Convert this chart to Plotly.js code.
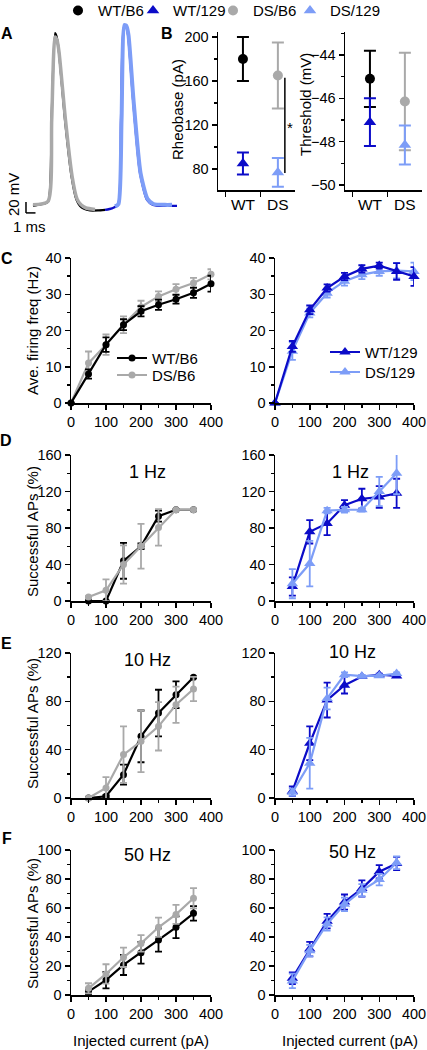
<!DOCTYPE html>
<html><head><meta charset="utf-8">
<script src="https://cdn.plot.ly/plotly-3.0.1.min.js"></script>
<style>html,body{margin:0;padding:0;background:#fff}#chart{width:427px;height:1050px}</style>
</head><body><div id="chart"></div>
<script>
// ---------- DATA ----------
// Panel A: example action potentials (time in ms, voltage in mV)
const apTimeWTB6 = [0, 0.74, 1.58, 1.95, 2.32, 2.47, 2.68, 3.37, 4.05, 4.58, 4.95, 5.37, 6.0, 6.84, 7.58];
const apVoltWTB6 = [-62.7, -61.9, -60.4, -13.6, 36.1, 34.4, 27.6, -13.6, -45.6, -59.3, -62.7, -64.4, -65.3, -65.3, -65.0];
const apTimeDSB6 = [0, 1.58, 1.97, 2.32, 2.53, 2.74, 3.42, 4.11, 4.63, 5.05, 5.58, 6.53];
const apVoltDSB6 = [-62.1, -60.1, -13.6, 33.9, 32.1, 25.3, -13.6, -45.6, -58.7, -62.1, -63.9, -64.7];
const apTimeWT129 = [7.58, 8.32, 8.95, 9.26, 9.58, 9.79, 10.0, 10.53, 11.26, 12.0, 12.63, 13.89, 15.16];
const apVoltWT129 = [-65.0, -64.1, -62.1, -13.6, 39.6, 39.6, 35.0, -2.1, -43.9, -59.3, -62.1, -62.7, -62.7];
const apTimeDS129 = [8.63, 9.0, 9.32, 9.63, 9.84, 10.05, 10.58, 11.32, 12.05, 12.68, 13.89, 14.63];
const apVoltDS129 = [-63.0, -61.6, -13.6, 40.7, 40.1, 35.0, -2.1, -43.9, -58.7, -61.6, -62.1, -62.1];

// Panel B
const genotypes = ['WT', 'DS'];
const rheobase = {WTB6: 180, WT129: 85, DSB6: 165, DS129: 77};
const rheobaseErr = {WTB6: 20, WT129: 10, DSB6: 30, DS129: 13};
const thresholdVals = {WTB6: -45.1, WT129: -47.1, DSB6: -46.15, DS129: -48.15};
const thresholdErr = {WTB6: 1.3, WT129: 1.1, DSB6: 2.25, DS129: 0.9};

// Panel C: average firing frequency (Hz)
const currentsC = [0, 50, 100, 150, 200, 250, 300, 350, 400];
const freqWTB6 = [0, 8.0, 16.1, 21.6, 25.3, 27.1, 28.6, 30.4, 32.9];
const freqWTB6Err = [0, 1.3, 2.0, 1.5, 1.4, 1.4, 1.2, 1.4, 2.2];
const freqDSB6 = [0, 11.0, 16.1, 21.6, 26.5, 29.4, 31.4, 33.1, 35.5];
const freqDSB6Err = [0, 3.2, 2.8, 2.3, 1.7, 1.4, 1.4, 1.4, 1.4];
const freqWT129 = [0, 15.6, 25.7, 31.7, 34.9, 37.0, 37.9, 36.3, 34.9];
const freqWT129Err = [0, 1.5, 1.2, 1.0, 1.0, 1.0, 0.8, 2.3, 2.6];
const freqDS129 = [0, 14.3, 24.8, 30.3, 33.6, 35.4, 36.3, 36.5, 36.3];
const freqDS129Err = [0, 2.4, 1.2, 1.2, 1.2, 1.2, 1.2, 2.1, 2.4];

// Panels D-F: successful APs (%)
const currentsDF = [50, 100, 150, 200, 250, 300, 350];
const ap1WTB6 = [0, 0, 44, 60, 93, 100, 100];
const ap1WTB6Err = [0, 0, 19.6, 3, 6, 0, 0];
const ap1DSB6 = [4.4, 11.7, 40, 60, 80.6, 100, 100];
const ap1DSB6Err = [1, 12, 21, 24.5, 20, 0, 0];
const ap1WT129 = [16, 75.8, 85, 105, 112, 114, 118];
const ap1WT129Err = [10, 12.8, 12.8, 5.5, 11, 12, 16];
const ap1DS129 = [19, 41, 99, 100, 100, 120, 140];
const ap1DS129Err = [16, 25, 3, 3, 2, 16, 23];

const ap10WTB6 = [0, 1.4, 19.3, 51, 70.3, 85.5, 100];
const ap10WTB6Err = [0, 1, 8.3, 21.4, 19.3, 11, 0.5];
const ap10DSB6 = [0, 8.3, 35.9, 46.9, 59.3, 77.2, 90.2];
const ap10DSB6Err = [0, 9, 23.4, 25.5, 20, 15, 10];
const ap10WT129 = [5.5, 45.3, 81, 93.4, 100.5, 102, 101];
const ap10WT129Err = [4, 14, 14.4, 6.9, 1, 1, 1];
const ap10DS129 = [4.7, 28.8, 82.4, 102, 100.8, 101.2, 103];
const ap10DS129Err = [3, 21, 9, 2, 1, 1, 1];

const ap50WTB6 = [2.3, 10.3, 20.7, 29.2, 37.9, 46.7, 56.3];
const ap50WTB6Err = [2, 5.7, 6.9, 7.5, 8, 7.5, 5];
const ap50DSB6 = [4.6, 14.5, 26, 35.6, 46.7, 55.6, 66.7];
const ap50DSB6Err = [3.5, 6.7, 6.7, 5.7, 6.6, 6.6, 7];
const ap50WT129 = [11.6, 31.7, 50.9, 64.1, 73.4, 85, 90.7];
const ap50WT129Err = [4, 5, 5, 5.2, 5.6, 4.6, 4.6];
const ap50DS129 = [9.7, 30.6, 49, 62.5, 72.2, 79.6, 91.2];
const ap50DS129Err = [5, 4, 4.6, 4.6, 4.2, 4, 4.4];

const groupNames = {WTB6: 'WT/B6', WT129: 'WT/129', DSB6: 'DS/B6', DS129: 'DS/129'};

// ---------- STYLE ----------
const W = 427, H = 1050;
const FONT = 'Liberation Sans, Arial, Helvetica, sans-serif';
const COL = {WTB6: '#000000', DSB6: '#a9a9a9', WT129: '#0b0bc8', DS129: '#7d9df7'};
const SYM = {WTB6: 'circle', DSB6: 'circle', WT129: 'triangle-up', DS129: 'triangle-up'};
const dx = (a, b) => [a / W, b / W];
const dy = (top, bottom) => [1 - bottom / H, 1 - top / H];
const px = v => v / W;
const py = v => 1 - v / H;
const LEG_HALF = 16.25; // distance from legend top to first item centre (15px font)

const traces = [];

// Panel A
function apTrace(t, v, color, width) {
  return {x: t, y: v, xaxis: 'x', yaxis: 'y', type: 'scatter', mode: 'lines',
    line: {color: color, width: width, shape: 'spline', smoothing: 0.6}, showlegend: false, hoverinfo: 'skip'};
}
traces.push(apTrace(apTimeWTB6, apVoltWTB6, COL.WTB6, 2.2));
traces.push(apTrace(apTimeDSB6, apVoltDSB6, COL.DSB6, 3.5));
traces.push(apTrace(apTimeWT129, apVoltWT129, COL.WT129, 2.2));
traces.push(apTrace(apTimeDS129, apVoltDS129, COL.DS129, 4));

// Panel B (rheobase traces also feed the four one-item top legends)
const bOrder = ['WTB6', 'WT129', 'DSB6', 'DS129'];
const topLegendIds = ['legend', 'legend4', 'legend5', 'legend6'];
bOrder.forEach((g, i) => {
  const geno = g.startsWith('WT') ? genotypes[0] : genotypes[1];
  const sz = SYM[g] === 'circle' ? 10 : 11;
  traces.push({x: [geno], y: [rheobase[g]], xaxis: 'x2', yaxis: 'y2', type: 'scatter', mode: 'markers',
    name: groupNames[g], legend: topLegendIds[i], showlegend: true, cliponaxis: false,
    marker: {color: COL[g], symbol: SYM[g], size: sz},
    error_y: {type: 'data', array: [rheobaseErr[g]], color: COL[g], thickness: 2, width: 6}});
  traces.push({x: [geno], y: [thresholdVals[g]], xaxis: 'x3', yaxis: 'y3', type: 'scatter', mode: 'markers',
    showlegend: false, cliponaxis: false,
    marker: {color: COL[g], symbol: SYM[g], size: sz},
    error_y: {type: 'data', array: [thresholdErr[g]], color: COL[g], thickness: 2, width: 6}});
});

function curve(x, y, err, g, xa, ya, legend) {
  const isTri = SYM[g] !== 'circle';
  const t = {x: x, y: y, xaxis: xa, yaxis: ya, type: 'scatter', mode: 'lines+markers', cliponaxis: false,
    name: groupNames[g], line: {color: COL[g], width: 2.2},
    marker: {color: COL[g], symbol: SYM[g], size: isTri ? 10 : 7},
    error_y: {type: 'data', array: err, color: COL[g], thickness: 1.8, width: 3.5},
    showlegend: !!legend};
  if (legend) t.legend = legend;
  return t;
}
// Panel C
traces.push(curve(currentsC, freqDSB6, freqDSB6Err, 'DSB6', 'x4', 'y4', 'legend7'));
traces.push(curve(currentsC, freqWTB6, freqWTB6Err, 'WTB6', 'x4', 'y4', 'legend2'));
traces.push(curve(currentsC, freqDS129, freqDS129Err, 'DS129', 'x5', 'y5', 'legend8'));
traces.push(curve(currentsC, freqWT129, freqWT129Err, 'WT129', 'x5', 'y5', 'legend3'));
// Panel D
traces.push(curve(currentsDF, ap1WTB6, ap1WTB6Err, 'WTB6', 'x6', 'y6'));
traces.push(curve(currentsDF, ap1DSB6, ap1DSB6Err, 'DSB6', 'x6', 'y6'));
traces.push(curve(currentsDF, ap1WT129, ap1WT129Err, 'WT129', 'x7', 'y7'));
traces.push(curve(currentsDF, ap1DS129, ap1DS129Err, 'DS129', 'x7', 'y7'));
// Panel E
traces.push(curve(currentsDF, ap10WTB6, ap10WTB6Err, 'WTB6', 'x8', 'y8'));
traces.push(curve(currentsDF, ap10DSB6, ap10DSB6Err, 'DSB6', 'x8', 'y8'));
traces.push(curve(currentsDF, ap10WT129, ap10WT129Err, 'WT129', 'x9', 'y9'));
traces.push(curve(currentsDF, ap10DS129, ap10DS129Err, 'DS129', 'x9', 'y9'));
// Panel F
traces.push(curve(currentsDF, ap50WTB6, ap50WTB6Err, 'WTB6', 'x10', 'y10'));
traces.push(curve(currentsDF, ap50DSB6, ap50DSB6Err, 'DSB6', 'x10', 'y10'));
traces.push(curve(currentsDF, ap50WT129, ap50WT129Err, 'WT129', 'x11', 'y11'));
traces.push(curve(currentsDF, ap50DS129, ap50DS129Err, 'DS129', 'x11', 'y11'));

// ---------- AXES ----------
const tickFont = {family: FONT, size: 14.5, color: '#000'};
function ax(domain, anchor, range, dtick, minorDtick) {
  const a = {domain: domain, anchor: anchor, range: range, showline: true, linecolor: '#000', linewidth: 1.5,
    ticks: 'outside', ticklen: 5, tickwidth: 1.5, tickcolor: '#000', tickfont: tickFont,
    showgrid: false, zeroline: false, fixedrange: true, tickmode: 'linear', tick0: 0, dtick: dtick};
  if (minorDtick) a.minor = {ticks: 'outside', ticklen: 3, tickwidth: 1.5, tickcolor: '#000', dtick: minorDtick, tick0: 0, showgrid: false};
  return a;
}
function catAx(domain, anchor) {
  return {domain: domain, anchor: anchor, type: 'category', range: [-0.714, 1.49], showline: true, linecolor: '#000',
    linewidth: 1.5, ticks: 'outside', ticklen: 5, tickwidth: 1.5, tickcolor: '#000', tickson: 'boundaries',
    tickfont: {family: FONT, size: 15.5, color: '#000'}, showgrid: false, zeroline: false, fixedrange: true};
}
const legFont = {family: FONT, size: 15, color: '#000'};
// one-item legend: place so that the symbol centre sits at (symX, centreY)
function oneLegend(symX, centreY, horizontal) {
  const l = {x: px(symX - 20), y: py(centreY - LEG_HALF), xanchor: 'left', yanchor: 'top',
    bgcolor: 'rgba(0,0,0,0)', font: legFont};
  if (horizontal) l.orientation = 'h';
  return l;
}
const LX = dx(71, 211), RX = dx(275, 414);
const layout = {
  width: W, height: H, margin: {l: 0, r: 0, t: 0, b: 0, autoexpand: false}, paper_bgcolor: '#fff', plot_bgcolor: 'rgba(0,0,0,0)',
  font: {family: FONT, size: 15, color: '#000'}, showlegend: true,
  xaxis: {domain: dx(20, 190), anchor: 'y', range: [-1.368, 16.526], visible: false, fixedrange: true},
  yaxis: {domain: dy(20, 222), anchor: 'x', range: [-71.9, 43.6], visible: false, fixedrange: true},
  xaxis2: catAx(dx(218, 295), 'y2'),
  yaxis2: ax(dy(32, 190), 'x2', [61, 204.5], 40, 20),
  xaxis3: catAx(dx(345, 422), 'y3'),
  yaxis3: ax(dy(32, 190), 'x3', [-50.23, -42.94], 2, 1),
  xaxis4: ax(LX, 'y4', [0, 400], 100, 50), yaxis4: ax(dy(258, 403), 'x4', [0, 40], 10, 5),
  xaxis5: ax(RX, 'y5', [0, 400], 100, 50), yaxis5: ax(dy(258, 403), 'x5', [0, 40], 10, 5),
  xaxis6: ax(LX, 'y6', [0, 400], 100, 50), yaxis6: ax(dy(455, 601), 'x6', [0, 160], 40, 20),
  xaxis7: ax(RX, 'y7', [0, 400], 100, 50), yaxis7: ax(dy(455, 601), 'x7', [0, 160], 40, 20),
  xaxis8: ax(LX, 'y8', [0, 400], 100, 50), yaxis8: ax(dy(653, 798), 'x8', [0, 120], 40, 20),
  xaxis9: ax(RX, 'y9', [0, 400], 100, 50), yaxis9: ax(dy(653, 798), 'x9', [0, 120], 40, 20),
  xaxis10: ax(LX, 'y10', [0, 400], 100, 50), yaxis10: ax(dy(850, 995), 'x10', [0, 100], 20, 10),
  xaxis11: ax(RX, 'y11', [0, 400], 100, 50), yaxis11: ax(dy(850, 995), 'x11', [0, 100], 20, 10),
  legend: oneLegend(78, 10.5, true), legend4: oneLegend(153, 10.5, true),
  legend5: oneLegend(233, 10.5, true), legend6: oneLegend(310, 10.5, true),
  legend2: oneLegend(132, 358), legend7: oneLegend(132, 375),
  legend3: oneLegend(345, 352), legend8: oneLegend(345, 372),
  shapes: [], annotations: []
};

// scale bar (panel A) and significance bar (panel B)
const scaleBarX = -0.737, scaleBarY = -66.7, scaleBarMs = 1, scaleBarDrawn = 6.3;
layout.shapes.push({type: 'line', xref: 'x', yref: 'y', x0: scaleBarX, x1: scaleBarX, y0: scaleBarY, y1: scaleBarY + scaleBarDrawn, line: {color: '#000', width: 1.5}});
layout.shapes.push({type: 'line', xref: 'x', yref: 'y', x0: scaleBarX, x1: scaleBarX + scaleBarMs, y0: scaleBarY, y1: scaleBarY, line: {color: '#000', width: 1.5}});
layout.shapes.push({type: 'line', xref: 'x2', yref: 'y2', x0: 1.2, x1: 1.2, y0: 76.5, y1: 163, line: {color: '#000', width: 1.5}});

function ann(text, x, y, opts) {
  layout.annotations.push(Object.assign({text: text, xref: 'paper', yref: 'paper', x: px(x), y: py(y),
    xanchor: 'center', yanchor: 'middle', showarrow: false, font: {family: FONT, size: 15, color: '#000'}}, opts || {}));
}
const letterFont = {family: FONT, size: 16, color: '#000'};
ann('<b>A</b>', 7, 33, {font: letterFont});
ann('<b>B</b>', 167, 33, {font: letterFont});
ann('<b>C</b>', 7, 258, {font: letterFont});
ann('<b>D</b>', 6, 440, {font: letterFont});
ann('<b>E</b>', 6, 643, {font: letterFont});
ann('<b>F</b>', 7, 838, {font: letterFont});
ann('20 mV', 13, 195, {textangle: -90});
ann('1 ms', 30, 227);
ann('*', 0, 0, {xref: 'x2', yref: 'y2', x: 1.34, y: 118});
ann('Rheobase (pA)', 178, 110, {textangle: -90});
ann('Threshold (mV)', 306, 105, {textangle: -90});
ann('Ave. firing freq (Hz)', 32, 331, {textangle: -90});
ann('Successful APs (%)', 32, 532, {textangle: -90});
ann('Successful APs (%)', 32, 724, {textangle: -90});
ann('Successful APs (%)', 32, 924, {textangle: -90});
ann('Injected current (pA)', 141, 1040);
ann('Injected current (pA)', 350, 1040);
const hzFont = {family: FONT, size: 18, color: '#000'};
ann('1 Hz', 147, 472, {font: hzFont});
ann('1 Hz', 350, 472, {font: hzFont});
ann('10 Hz', 147, 660, {font: hzFont});
ann('10 Hz', 352, 652, {font: hzFont});
ann('50 Hz', 147, 855, {font: hzFont});
ann('50 Hz', 352, 852, {font: hzFont});

Plotly.newPlot('chart', traces, layout, {displayModeBar: false, staticPlot: true});
</script></body></html>
